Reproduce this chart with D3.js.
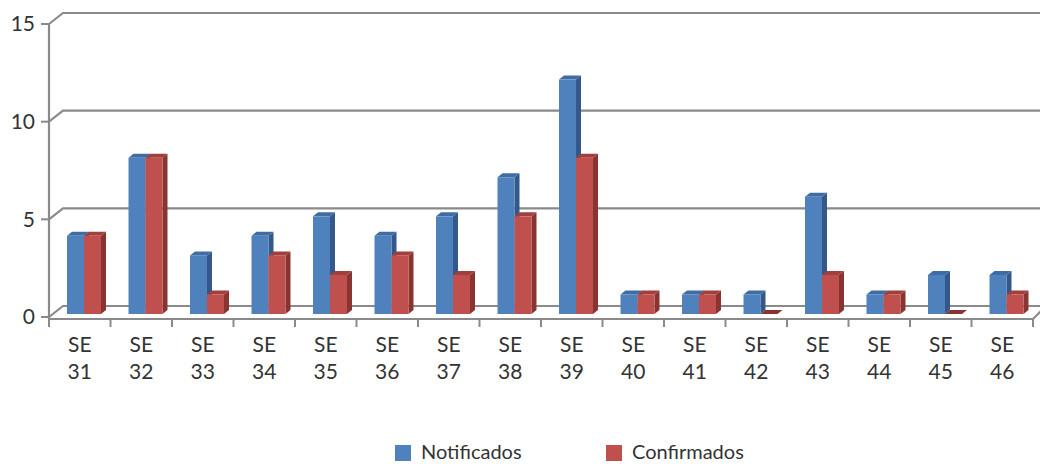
<!DOCTYPE html>
<html>
<head>
<meta charset="utf-8">
<script src="https://cdn.jsdelivr.net/npm/d3@7"></script>
<style>
  html, body { margin: 0; padding: 0; background: #fff; }
  svg { display: block; }
  text { font-family: Lato, "Open Sans", sans-serif; fill: #333; }
</style>
</head>
<body>
<svg id="chart" width="1040" height="464"></svg>
<script>
// Weekly cases per epidemiological week (SE)
const weeks = ["31","32","33","34","35","36","37","38","39","40","41","42","43","44","45","46"];
const notificados = [4, 8, 3, 4, 5, 4, 5, 7, 12, 1, 1, 1, 6, 1, 2, 2];
const confirmados = [4, 8, 1, 3, 2, 3, 2, 5, 8, 1, 1, 0, 2, 1, 0, 1];
const yTicks = [0, 5, 10, 15];
const seriesNames = ["Notificados", "Confirmados"];

const W = 1040, H = 464;
const svg = d3.select("#chart");

// 3D box geometry: front plane, back wall offset
const frontLeft = 49, frontRight = 1033;
const depthX = 14, depthY = -11;
const axisColor = "#8a8a8a";

const x = d3.scaleBand().domain(weeks).range([frontLeft, frontRight]).paddingInner(0).paddingOuter(0);
const yFront = d3.scaleLinear().domain([0, 15]).range([317, 24]);
const yBar = d3.scaleLinear().domain([0, 15]).range([314, 21]);

// Back wall gridlines with diagonal connector to the front axis
const grid = svg.append("g");
yTicks.forEach(t => {
  const yf = yFront(t), yb = yf + depthY;
  grid.append("path")
    .attr("d", `M${frontLeft},${yf} L${frontLeft + depthX},${yb} L${W},${yb}`)
    .attr("fill", "none").attr("stroke", axisColor).attr("stroke-width", 2.2);
});

// Front vertical axis
grid.append("line")
  .attr("x1", frontLeft).attr("x2", frontLeft)
  .attr("y1", yFront(15)).attr("y2", yFront(0) + 2)
  .attr("stroke", axisColor).attr("stroke-width", 2.2);

// Y tick marks and labels
const yAxis = svg.append("g");
yTicks.forEach(t => {
  const yf = yFront(t);
  yAxis.append("line")
    .attr("x1", frontLeft - 8).attr("x2", frontLeft)
    .attr("y1", yf).attr("y2", yf)
    .attr("stroke", axisColor).attr("stroke-width", 2);
  yAxis.append("text")
    .attr("x", 35).attr("y", yf).attr("dy", "0.35em")
    .attr("text-anchor", "end").attr("font-size", 21)
    .text(t);
});

// Floor front edge and right corner
const floorY = yFront(0) + 2;
svg.append("path")
  .attr("d", `M${frontLeft},${floorY} L${frontRight},${floorY} L${frontRight + 9},${floorY - 9}`)
  .attr("fill", "none").attr("stroke", axisColor).attr("stroke-width", 2.2);

// Category tick marks
weeks.concat(["end"]).forEach((w, i) => {
  const xt = i < weeks.length ? x(w) : frontRight;
  svg.append("line")
    .attr("x1", xt).attr("x2", xt)
    .attr("y1", floorY).attr("y2", floorY + 8)
    .attr("stroke", axisColor).attr("stroke-width", 2);
});

// Category labels
const xl = svg.append("g");
weeks.forEach(w => {
  const cx = x(w) + x.bandwidth() / 2;
  const t = xl.append("text").attr("text-anchor", "middle").attr("font-size", 21);
  t.append("tspan").attr("x", cx).attr("y", 352).text("SE");
  t.append("tspan").attr("x", cx).attr("y", 379).text(w);
});

// 3D bars
const barW = 17, sideW = 5, topH = 4, barOffset = 18;
const palette = [
  { front: "#4F81BD", side: "#34588A", top: "#3F6CA3" },
  { front: "#C0504D", side: "#8A3432", top: "#A13F3D" }
];
const series = [notificados, confirmados];

const bars = svg.append("g");
series.forEach((vals, s) => {
  const c = palette[s];
  weeks.forEach((w, i) => {
    const x0 = x(w) + barOffset + s * barW;
    const y0 = yBar(0), y1 = yBar(vals[i]);
    const g = bars.append("g");
    // side face
    g.append("path")
      .attr("d", `M${x0 + barW},${y1} L${x0 + barW + sideW},${y1 - topH} L${x0 + barW + sideW},${y0 - topH} L${x0 + barW},${y0} Z`)
      .attr("fill", c.side);
    // top face
    g.append("path")
      .attr("d", `M${x0},${y1} L${x0 + sideW},${y1 - topH} L${x0 + barW + sideW},${y1 - topH} L${x0 + barW},${y1} Z`)
      .attr("fill", vals[i] === 0 ? c.side : c.top);
    // front face
    if (vals[i] > 0) {
      g.append("rect")
        .attr("x", x0).attr("y", y1)
        .attr("width", barW).attr("height", y0 - y1)
        .attr("fill", c.front);
    }
  });
});

// Legend
const legend = svg.append("g");
const legendX = [395, 606];
seriesNames.forEach((name, s) => {
  legend.append("rect")
    .attr("x", legendX[s]).attr("y", 445)
    .attr("width", 16).attr("height", 16)
    .attr("fill", palette[s].front);
  legend.append("text")
    .attr("x", legendX[s] + 26).attr("y", 459)
    .attr("font-size", 20)
    .text(name);
});
</script>
</body>
</html>
